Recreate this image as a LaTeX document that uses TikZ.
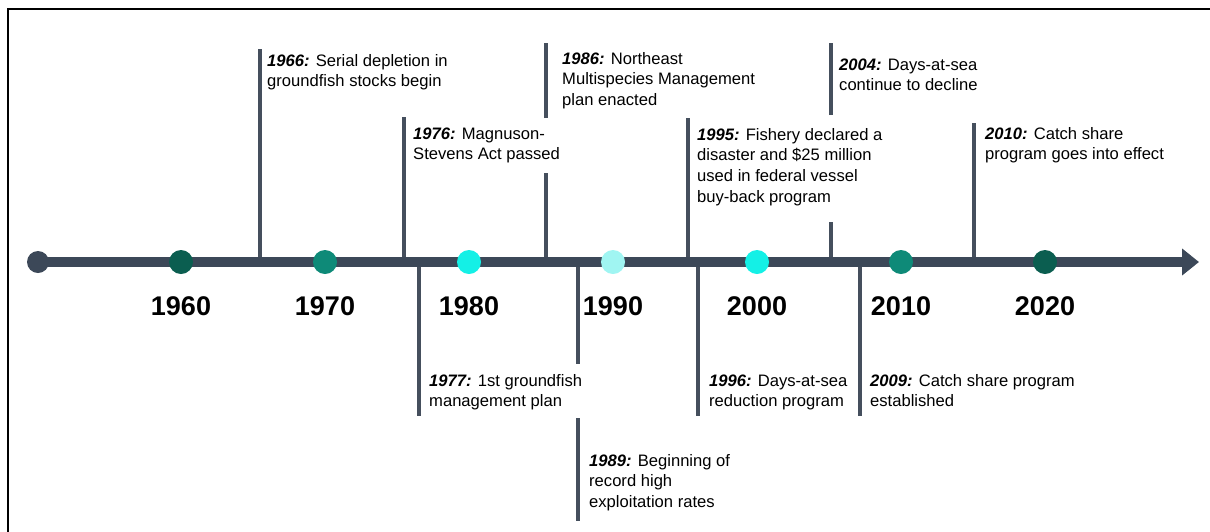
\documentclass[tikz,border=0pt]{standalone}
\usepackage{fontspec}
\setmainfont{Liberation Sans}
\usetikzlibrary{arrows.meta}
\definecolor{axisc}{HTML}{3C4858}
\definecolor{tickc}{HTML}{454F5D}
\definecolor{dA}{HTML}{0B5E50}
\definecolor{dB}{HTML}{0E8A78}
\definecolor{dC}{HTML}{14F0E6}
\definecolor{dD}{HTML}{A0F5F2}
\tikzset{
  dot/.style={circle, inner sep=0pt, minimum size=24pt, draw=none},
  yearlbl/.style={font=\fontsize{27}{27}\selectfont\bfseries, inner sep=0pt},
  event/.style={anchor=base west, inner sep=0pt, align=left, font=\fontsize{16.6}{20.7}\selectfont},
  tickline/.style={draw=tickc, line width=4pt},
  axisline/.style={draw=axisc, line width=10pt, -{Triangle[length=17pt,width=26pt]}},
  frameline/.style={draw=black, line width=2pt},
}
\newcommand{\yr}[1]{{\bfseries\itshape #1}}
\begin{document}
\begin{tikzpicture}[x=1pt,y=-1pt]
\useasboundingbox (0,0) rectangle (1210,531);
% frame
\coordinate (fbl) at (8,532);
\coordinate (ftl) at (8,9);
\coordinate (ftr) at (1211,9);
\draw[frameline] (fbl) -- (ftl) -- (ftr);

% tick coordinates (up)
\coordinate (a66) at (260,262); \coordinate (b66) at (260,49);
\coordinate (a76) at (404,262); \coordinate (b76) at (404,117);
\coordinate (a86) at (546,262); \coordinate (b86) at (546,173);
\coordinate (c86) at (546,118); \coordinate (d86) at (546,43);
\coordinate (a95) at (688,262); \coordinate (b95) at (688,118);
\coordinate (a04) at (831,262); \coordinate (b04) at (831,222);
\coordinate (c04) at (831,115); \coordinate (d04) at (831,43);
\coordinate (a10) at (974,262); \coordinate (b10) at (974,123);
% tick coordinates (down)
\coordinate (a77) at (419,262); \coordinate (b77) at (419,416);
\coordinate (a89) at (578,262); \coordinate (b89) at (578,364);
\coordinate (c89) at (578,418); \coordinate (d89) at (578,521);
\coordinate (a96) at (698,262); \coordinate (b96) at (698,416);
\coordinate (a09) at (860,262); \coordinate (b09) at (860,416);

\draw[tickline] (a66) -- (b66);
\draw[tickline] (a76) -- (b76);
\draw[tickline] (a86) -- (b86);
\draw[tickline] (c86) -- (d86);
\draw[tickline] (a95) -- (b95);
\draw[tickline] (a04) -- (b04);
\draw[tickline] (c04) -- (d04);
\draw[tickline] (a10) -- (b10);
\draw[tickline] (a77) -- (b77);
\draw[tickline] (a89) -- (b89);
\draw[tickline] (c89) -- (d89);
\draw[tickline] (a96) -- (b96);
\draw[tickline] (a09) -- (b09);

% axis
\node[dot, fill=axisc, minimum size=22pt] (start) at (38,262) {};
\coordinate (axend) at (1199,262);
\draw[axisline] (start.center) -- (axend);

% decade dots
\node[dot, fill=dA] (d1960) at (181,262) {};
\node[dot, fill=dB] (d1970) at (325,262) {};
\node[dot, fill=dC] (d1980) at (469,262) {};
\node[dot, fill=dD] (d1990) at (613,262) {};
\node[dot, fill=dC] (d2000) at (757,262) {};
\node[dot, fill=dB] (d2010) at (901,262) {};
\node[dot, fill=dA] (d2020) at (1045,262) {};

% decade labels
\node[yearlbl] (l1960) at (181,306) {1960};
\node[yearlbl] (l1970) at (325,306) {1970};
\node[yearlbl] (l1980) at (469,306) {1980};
\node[yearlbl] (l1990) at (613,306) {1990};
\node[yearlbl] (l2000) at (757,306) {2000};
\node[yearlbl] (l2010) at (901,306) {2010};
\node[yearlbl] (l2020) at (1045,306) {2020};

% events above (anchor = baseline of last line)
\node[event] (e66) at (267,86.7) {\yr{1966:} Serial depletion in\\groundfish stocks begin};
\node[event] (e76) at (413,159.7) {\yr{1976:} Magnuson-\\Stevens Act passed};
\node[event] (e86) at (562,105.4) {\yr{1986:} Northeast\\Multispecies Management\\plan enacted};
\node[event] (e95) at (697,202.1) {\yr{1995:} Fishery declared a\\disaster and \$25 million\\used in federal vessel\\buy-back program};
\node[event] (e04) at (839,90.7) {\yr{2004:} Days-at-sea\\continue to decline};
\node[event] (e10) at (985,159.7) {\yr{2010:} Catch share\\program goes into effect};
% events below
\node[event] (e77) at (429,406.7) {\yr{1977:} 1st groundfish\\management plan};
\node[event] (e89) at (589,507.4) {\yr{1989:} Beginning of\\record high\\exploitation rates};
\node[event] (e96) at (709,406.7) {\yr{1996:} Days-at-sea\\reduction program};
\node[event] (e09) at (870,406.7) {\yr{2009:} Catch share program\\established};
\end{tikzpicture}
\end{document}
